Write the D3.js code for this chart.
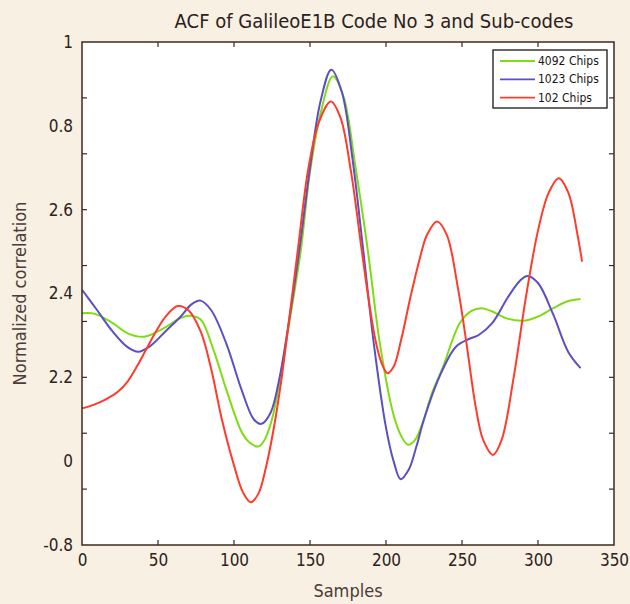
<!DOCTYPE html>
<html>
<head>
<meta charset="utf-8">
<script src="https://cdn.jsdelivr.net/npm/d3@7"></script>
<style>
  html, body { margin: 0; padding: 0; background: #f8f0e2; }
  svg { display: block; }
</style>
</head>
<body>
<svg id="chart" width="630" height="604"></svg>
<script>
// ---------- data ----------
const titleText = "ACF of GalileoE1B Code No 3 and Sub-codes";
const xLabel = "Samples";
const yLabel = "Normalized correlation";

const seriesNames = ["4092 Chips", "1023 Chips", "102 Chips"];
const seriesColors = ["#7fdc12", "#5a4fc4", "#ff3b2b"];

const xTicks = [0, 50, 100, 150, 200, 250, 300, 350];
// tick labels as printed in the figure, at values 1 .. -0.2
const yTickValues = [1, 0.8, 0.6, 0.4, 0.2, 0, -0.2];
const yTickLabels = ["1", "0.8", "2.6", "2.4", "2.2", "0", "-0.8"];
const yTickMarkCount = 9; // intervals of the tick marks along the y frame

const chips4092 = [
  [0, 0.353], [8, 0.352], [20, 0.33], [30, 0.305], [41, 0.297], [55, 0.32],
  [65, 0.342], [71, 0.347], [78, 0.338], [87, 0.26], [95, 0.17], [105, 0.07],
  [110, 0.045], [116, 0.035], [120, 0.05], [125, 0.1], [130, 0.19], [135, 0.3],
  [140, 0.41], [144, 0.504], [150, 0.69], [157, 0.83], [165, 0.918], [172, 0.87],
  [180, 0.70], [188, 0.504], [196, 0.28], [205, 0.11], [210, 0.06], [214.5, 0.039],
  [219, 0.05], [224, 0.09], [230, 0.16], [237.5, 0.225], [248.5, 0.329],
  [256, 0.358], [262.7, 0.365], [270, 0.357], [280, 0.34], [291, 0.335],
  [300, 0.345], [310, 0.365], [320, 0.382], [328, 0.387]
];
const chips1023 = [
  [0, 0.409], [10, 0.36], [20, 0.31], [30, 0.272], [37, 0.261], [45, 0.275],
  [55, 0.31], [65, 0.345], [72, 0.374], [78, 0.383], [85, 0.36], [95, 0.28],
  [105, 0.17], [113, 0.10], [118, 0.089], [124, 0.115], [130, 0.2], [136, 0.33],
  [143, 0.504], [150, 0.7], [157, 0.86], [164, 0.934], [171, 0.88], [178, 0.72],
  [185, 0.504], [192, 0.28], [200, 0.08], [205, 0.0], [209.6, -0.043],
  [215, -0.02], [220, 0.035], [225, 0.1], [235, 0.2], [246, 0.273], [255, 0.292],
  [261, 0.301], [270, 0.33], [280, 0.39], [288, 0.43], [293, 0.442], [300, 0.425],
  [310, 0.35], [320, 0.26], [328, 0.222]
];
const chips102 = [
  [0, 0.126], [8, 0.135], [16, 0.148], [24, 0.167], [30, 0.19], [36, 0.225],
  [42, 0.265], [48, 0.305], [55, 0.345], [63, 0.37], [70, 0.36], [78, 0.31],
  [85, 0.22], [92, 0.1], [100, -0.01], [106, -0.075], [111, -0.098], [116, -0.078],
  [121, -0.015], [126, 0.075], [131, 0.19], [136, 0.33], [142, 0.504], [149, 0.7],
  [156, 0.81], [163.7, 0.858], [170, 0.82], [177, 0.69], [184, 0.504], [188, 0.4],
  [193, 0.29], [197, 0.235], [201, 0.21], [205, 0.225], [210, 0.29], [216, 0.39],
  [222, 0.48], [227, 0.54], [233.6, 0.572], [240, 0.54], [247, 0.42], [253, 0.28],
  [259, 0.13], [264, 0.05], [270.4, 0.015], [276, 0.05], [284, 0.2], [292, 0.39],
  [300, 0.55], [307, 0.64], [313.7, 0.675], [320, 0.64], [326, 0.54], [329, 0.476]
];
const seriesData = [chips4092, chips1023, chips102];

// ---------- layout ----------
const svg = d3.select("#chart");
const W = 630, H = 604;
const plot = { left: 82, right: 614, top: 42, bottom: 545 };
const fontFamily = "'DejaVu Sans Condensed', 'DejaVu Sans', sans-serif";
const frameColor = "#3b2a1e";
const textColor = "#2b2220";

const x = d3.scaleLinear().domain([0, 350]).range([plot.left, plot.right]);
const y = d3.scaleLinear().domain([-0.2, 1]).range([plot.bottom, plot.top]);

svg.append("rect").attr("width", W).attr("height", H).attr("fill", "#f8f0e2");

svg.append("rect")
  .attr("x", plot.left).attr("y", plot.top)
  .attr("width", plot.right - plot.left).attr("height", plot.bottom - plot.top)
  .attr("fill", "#ffffff");

// lines
const line = d3.line()
  .x(d => x(d[0])).y(d => y(d[1]))
  .curve(d3.curveCatmullRom.alpha(0.5));

const gLines = svg.append("g");
seriesData.forEach((s, i) => {
  gLines.append("path")
    .datum(s)
    .attr("d", line)
    .attr("fill", "none")
    .attr("stroke", seriesColors[i])
    .attr("stroke-width", 2)
    .attr("stroke-linejoin", "round");
});

// axes: bottom x tick labels
const xAxisB = d3.axisBottom(x).tickValues(xTicks).tickSize(0).tickPadding(9);
const gxb = svg.append("g").attr("transform", `translate(0,${plot.bottom})`).call(xAxisB);
gxb.select(".domain").remove();
gxb.selectAll("text").attr("font-family", fontFamily).attr("font-size", 17).attr("fill", textColor);

// inward tick marks on all four sides
const tickLen = 5;
const gTicks = svg.append("g").attr("stroke", frameColor).attr("stroke-width", 1.2);
xTicks.slice(1, -1).forEach(v => {
  gTicks.append("line").attr("x1", x(v)).attr("x2", x(v)).attr("y1", plot.bottom).attr("y2", plot.bottom - tickLen);
  gTicks.append("line").attr("x1", x(v)).attr("x2", x(v)).attr("y1", plot.top).attr("y2", plot.top + tickLen);
});
const yDom = y.domain();
d3.range(1, yTickMarkCount).forEach(k => {
  const v = yDom[0] + (yDom[1] - yDom[0]) * k / yTickMarkCount;
  gTicks.append("line").attr("x1", plot.left).attr("x2", plot.left + tickLen).attr("y1", y(v)).attr("y2", y(v));
  gTicks.append("line").attr("x1", plot.right).attr("x2", plot.right - tickLen).attr("y1", y(v)).attr("y2", y(v));
});

// y axis labels
const yAxis = d3.axisLeft(y).tickValues(yTickValues)
  .tickFormat((d, i) => yTickLabels[i]).tickSize(0).tickPadding(9);
const gy = svg.append("g").attr("transform", `translate(${plot.left},0)`).call(yAxis);
gy.select(".domain").remove();
gy.selectAll("text").attr("font-family", fontFamily).attr("font-size", 17).attr("fill", textColor);

// frame
svg.append("rect")
  .attr("x", plot.left).attr("y", plot.top)
  .attr("width", plot.right - plot.left).attr("height", plot.bottom - plot.top)
  .attr("fill", "none").attr("stroke", frameColor).attr("stroke-width", 1.5);

// title & labels
svg.append("text")
  .attr("x", 374).attr("y", 28)
  .attr("text-anchor", "middle")
  .attr("font-family", fontFamily).attr("font-size", 20).attr("fill", textColor)
  .text(titleText);

svg.append("text")
  .attr("x", (plot.left + plot.right) / 2).attr("y", 597)
  .attr("text-anchor", "middle")
  .attr("font-family", fontFamily).attr("font-size", 18).attr("fill", "#4a3c38")
  .text(xLabel);

svg.append("text")
  .attr("transform", `translate(26,${(plot.top + plot.bottom) / 2}) rotate(-90)`)
  .attr("text-anchor", "middle")
  .attr("font-family", fontFamily).attr("font-size", 18).attr("fill", "#4a3c38")
  .text(yLabel);

// legend
const lg = svg.append("g");
const lgBox = { x: 493, y: 50, w: 114, h: 58 };
lg.append("rect")
  .attr("x", lgBox.x).attr("y", lgBox.y).attr("width", lgBox.w).attr("height", lgBox.h)
  .attr("fill", "#ffffff").attr("stroke", "#1a1412").attr("stroke-width", 1.3);
seriesNames.forEach((name, i) => {
  const ry = lgBox.y + 11 + i * 18.3;
  lg.append("line")
    .attr("x1", lgBox.x + 7).attr("x2", lgBox.x + 42)
    .attr("y1", ry).attr("y2", ry)
    .attr("stroke", seriesColors[i]).attr("stroke-width", 1.8);
  lg.append("text")
    .attr("x", lgBox.x + 45).attr("y", ry + 4)
    .attr("font-family", fontFamily).attr("font-size", 12).attr("fill", "#1a1412")
    .text(name);
});
</script>
</body>
</html>
